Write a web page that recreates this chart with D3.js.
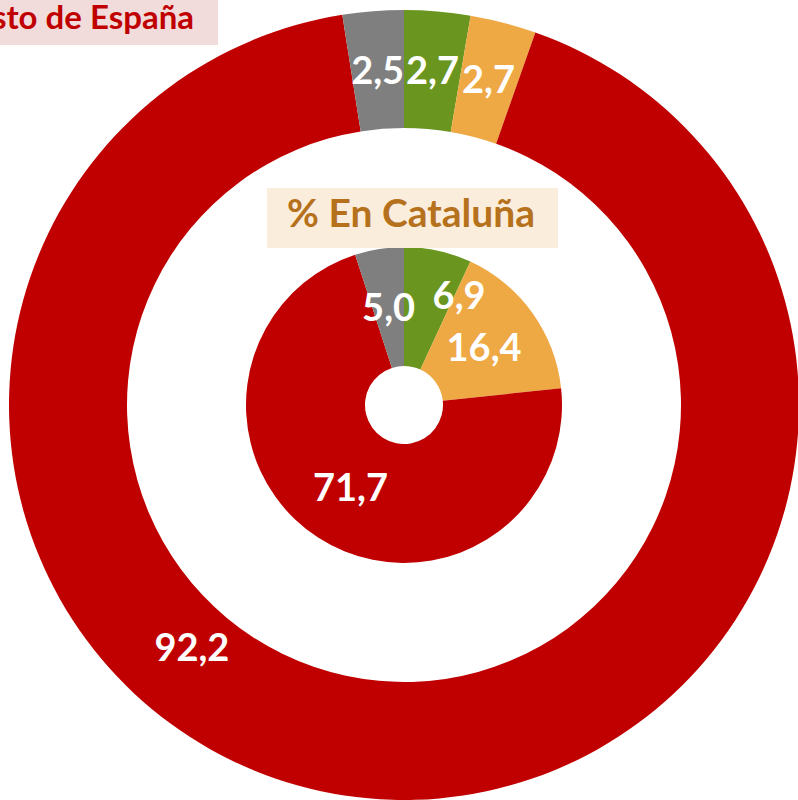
<!DOCTYPE html>
<html>
<head>
<meta charset="utf-8">
<script src="https://cdn.jsdelivr.net/npm/d3@7.9.0/dist/d3.min.js"></script>
<style>
  body { margin: 0; background: #fff; }
  svg { display: block; font-family: Lato, "Open Sans", sans-serif; font-weight: bold; }
</style>
</head>
<body>
<svg width="798" height="800"></svg>
<script>
// categories, clockwise from 12 o'clock
const categories = ['verde', 'naranja', 'rojo', 'gris'];
const colors = ['#6a961f', '#eea844', '#c00000', '#7f7f7f'];

// % en el resto de España (outer ring)
const spainValues = [2.7, 2.7, 92.2, 2.5];
// % en Cataluña (inner ring)
const cataloniaValues = [6.9, 16.4, 71.7, 5.0];

const fmt = v => v.toFixed(1).replace('.', ',');

const svg = d3.select('svg');
const cx = 404, cy = 405;
const g = svg.append('g').attr('transform', `translate(${cx},${cy})`);

let pie = d3.pie().sort(null).value(d => d);

// labels that were dragged by hand in the original (angle in degrees, radius)
const movedLabels = {
  outer: { 2: { angle: 221.2, r: 322 } },
  inner: { 0: { angle: 26.6, r: 123 } }
};

function drawRing(values, inner, outer, key) {
  let arcs = pie(values);
  let arcGen = d3.arc().innerRadius(inner).outerRadius(outer);

  g.selectAll('path.' + key)
    .data(arcs)
    .join('path')
    .attr('class', key)
    .attr('d', arcGen)
    .attr('fill', (d, i) => colors[i]);

  g.selectAll('text.' + key)
    .data(arcs)
    .join('text')
    .attr('class', key)
    .attr('transform', (d, i) => {
      let m = movedLabels[key][i];
      if (m) {
        let a = m.angle * Math.PI / 180;
        return `translate(${m.r * Math.sin(a)},${-m.r * Math.cos(a)})`;
      }
      return `translate(${arcGen.centroid(d)})`;
    })
    .attr('text-anchor', 'middle')
    .attr('dy', '0.36em')
    .attr('fill', '#fff')
    .attr('font-size', 38)
    .text(d => fmt(d.data));
}

drawRing(spainValues, 277, 395, 'outer');
drawRing(cataloniaValues, 39, 158, 'inner');

// title boxes
svg.append('rect')
  .attr('x', -10).attr('y', -5)
  .attr('width', 228).attr('height', 50)
  .attr('fill', '#f2dcdb');
svg.append('text')
  .attr('x', 194).attr('y', 29)
  .attr('text-anchor', 'end')
  .attr('font-size', 33)
  .attr('fill', '#c00000')
  .text('% Resto de España');

svg.append('rect')
  .attr('x', 267).attr('y', 188)
  .attr('width', 291).attr('height', 60)
  .attr('fill', '#fbeddc');
svg.append('text')
  .attr('x', 411).attr('y', 227)
  .attr('text-anchor', 'middle')
  .attr('font-size', 39)
  .attr('fill', '#b5711b')
  .text('% En Cataluña');
</script>
</body>
</html>
